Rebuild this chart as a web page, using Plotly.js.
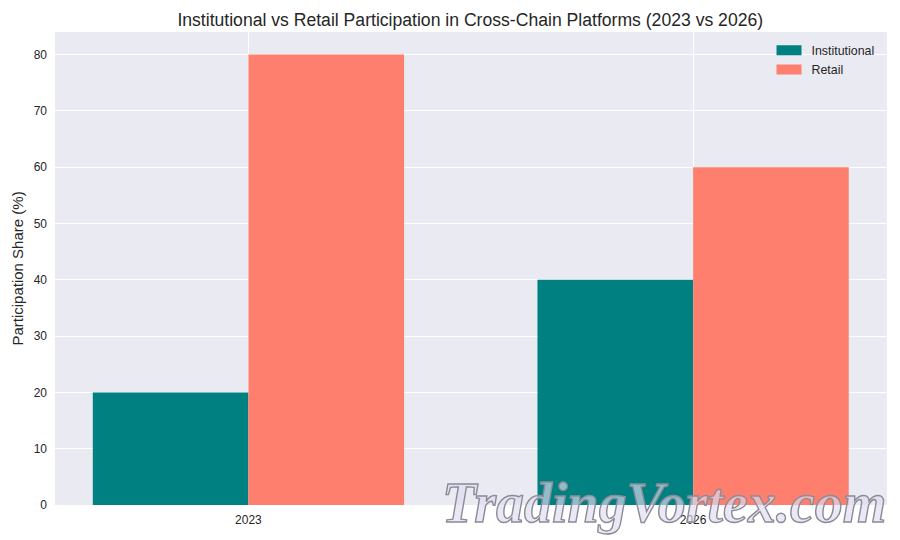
<!DOCTYPE html>
<html>
<head>
<meta charset="utf-8">
<script src="https://cdn.plot.ly/plotly-3.0.1.min.js"></script>
<style>
html,body{margin:0;padding:0;background:#fff}
.annotation-text{stroke:#8c8c98 !important;stroke-width:1.4px !important}
</style>
</head>
<body>
<div id="chart" style="width:900px;height:540px"></div>
<script>
const years = ["2023", "2026"];
const institutional = [20, 40];
const retail = [80, 60];
const yTicks = [0, 10, 20, 30, 40, 50, 60, 70, 80];
const seriesNames = ["Institutional", "Retail"];
const chartTitle = "Institutional vs Retail Participation in Cross-Chain Platforms (2023 vs 2026)";
const yTitle = "Participation Share (%)";
const watermark = "TradingVortex.com";

const textColor = "#262626";
const fontFamily = "'Liberation Sans', Arial, sans-serif";
const teal = "#008080";
const coral = "#FF7F6E";

const traces = [
  {type: "bar", name: seriesNames[0], x: years, y: institutional, marker: {color: teal}, showlegend: false},
  {type: "bar", name: seriesNames[1], x: years, y: retail, marker: {color: coral}, showlegend: false},
  {type: "scatter", mode: "lines", name: seriesNames[0], x: years, y: [null, null], line: {color: teal, width: 10, dash: "25px,60px"}},
  {type: "scatter", mode: "lines", name: seriesNames[1], x: years, y: [null, null], line: {color: coral, width: 10, dash: "25px,60px"}}
];

const layout = {
  width: 900, height: 540,
  paper_bgcolor: "#ffffff", plot_bgcolor: "#EAEAF2",
  font: {family: fontFamily, size: 12, color: textColor},
  margin: {l: 55, r: 13, t: 32, b: 35},
  barmode: "group", bargap: 0.3, bargroupgap: 0,
  title: {text: chartTitle, font: {size: 17.6, color: textColor}, x: 0.5225, xanchor: "center", y: 0.964, yanchor: "middle"},
  xaxis: {
    type: "category", range: [-0.435, 1.436], showgrid: true, gridcolor: "#ffffff", gridwidth: 1.2,
    zeroline: false, showline: false, ticks: "", ticklabelstandoff: 6, tickfont: {size: 12, color: textColor}
  },
  yaxis: {
    range: [0, 84], tickvals: yTicks, showgrid: true, gridcolor: "#ffffff", gridwidth: 1.2,
    zeroline: false, showline: false, ticks: "", ticklabelstandoff: 7, tickfont: {size: 12, color: textColor},
    title: {text: yTitle, font: {size: 15, color: textColor}, standoff: 6}
  },
  legend: {
    x: 0.991, xanchor: "right", y: 0.992, yanchor: "top", bgcolor: "rgba(0,0,0,0)",
    font: {size: 12.4, color: textColor}, itemwidth: 30, itemclick: false, traceorder: "normal"
  },
  showlegend: true,
  annotations: [{
    text: watermark, xref: "paper", yref: "paper", x: 1.001, xanchor: "right", y: -0.066, yanchor: "bottom",
    showarrow: false, font: {family: "'Liberation Serif', serif", size: 56, color: "rgba(222,220,240,0.65)", weight: 700, style: "italic"}
  }]
};

Plotly.newPlot("chart", traces, layout, {displayModeBar: false});
</script>
</body>
</html>
